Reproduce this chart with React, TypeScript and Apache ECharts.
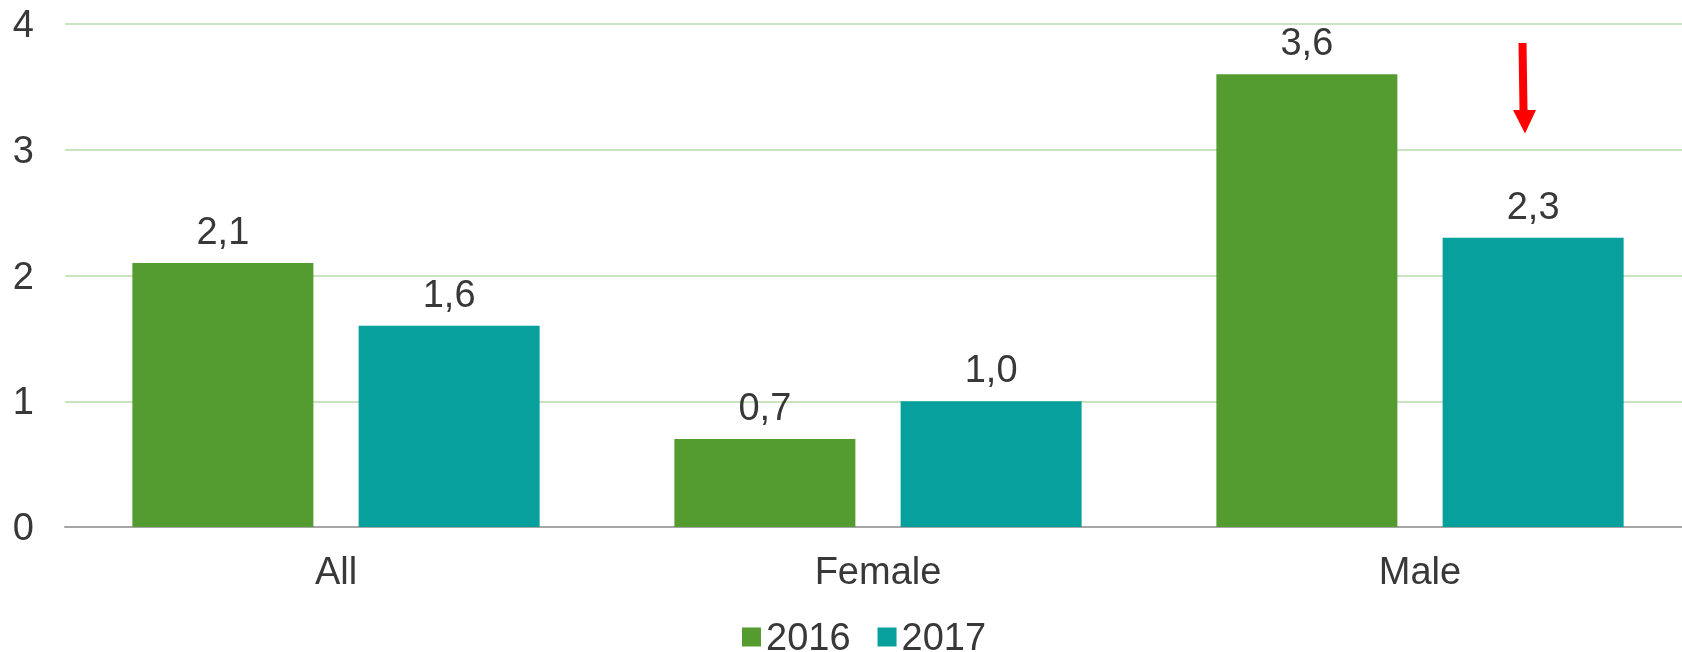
import React, { useEffect, useRef } from "react";
import * as echarts from "echarts";

const categories = ["All", "Female", "Male"];
const seriesNames = ["2016", "2017"];
const values2016 = [2.1, 0.7, 3.6];
const values2017 = [1.6, 1.0, 2.3];
const yTicks = { min: 0, max: 4, interval: 1 };

const FONT = "'Liberation Sans', Arial, sans-serif";
const TEXT = "#383838";
const GREEN = "#549B30";
const TEAL = "#07A09D";

export default function App() {
  const ref = useRef<HTMLDivElement>(null);
  useEffect(() => {
    if (!ref.current) return;
    const chart = echarts.init(ref.current, undefined, { renderer: "svg" });
    const label = {
      show: true,
      position: "top",
      distance: 13,
      fontSize: 38,
      fontFamily: FONT,
      color: TEXT,
      formatter: (p: any) => Number(p.value).toFixed(1).replace(".", ","),
    };
    chart.setOption({
      animation: false,
      grid: { left: 65, top: 24, width: 1626, height: 503 },
      legend: {
        data: seriesNames,
        left: 742,
        top: 618,
        padding: 0,
        itemWidth: 19,
        itemHeight: 19,
        itemGap: 27,
        icon: "rect",
        textStyle: { fontSize: 38, lineHeight: 30, fontFamily: FONT, color: TEXT },
      },
      xAxis: {
        type: "category",
        data: categories,
        axisTick: { show: false },
        axisLine: { lineStyle: { color: "#A6A6A6", width: 2 } },
        axisLabel: { fontSize: 38, fontFamily: FONT, color: TEXT, margin: 25 },
      },
      yAxis: {
        type: "value",
        min: yTicks.min,
        max: yTicks.max,
        interval: yTicks.interval,
        axisLine: { show: false },
        axisTick: { show: false },
        splitLine: { lineStyle: { color: "#B9DAA8", width: 1.5 } },
        axisLabel: { fontSize: 38, fontFamily: FONT, color: TEXT, margin: 31 },
      },
      series: [
        {
          name: seriesNames[0],
          type: "bar",
          data: values2016,
          barWidth: 181,
          barGap: "25%",
          itemStyle: { color: GREEN },
          label,
        },
        {
          name: seriesNames[1],
          type: "bar",
          data: values2017,
          barWidth: 181,
          barGap: "25%",
          itemStyle: { color: TEAL },
          label,
        },
      ],
      graphic: [
        {
          type: "polygon",
          shape: {
            points: [
              [1518.5, 43],
              [1526.5, 43],
              [1527.5, 110],
              [1536, 110],
              [1525, 133.5],
              [1513, 110],
              [1519.5, 110],
            ],
          },
          style: { fill: "#FF0000" },
          z: 100,
        },
      ],
    });
    return () => chart.dispose();
  }, []);
  return (
    <div
      ref={ref}
      style={{ position: "fixed", left: 0, top: 0, width: 1700, height: 652 }}
    />
  );
}
